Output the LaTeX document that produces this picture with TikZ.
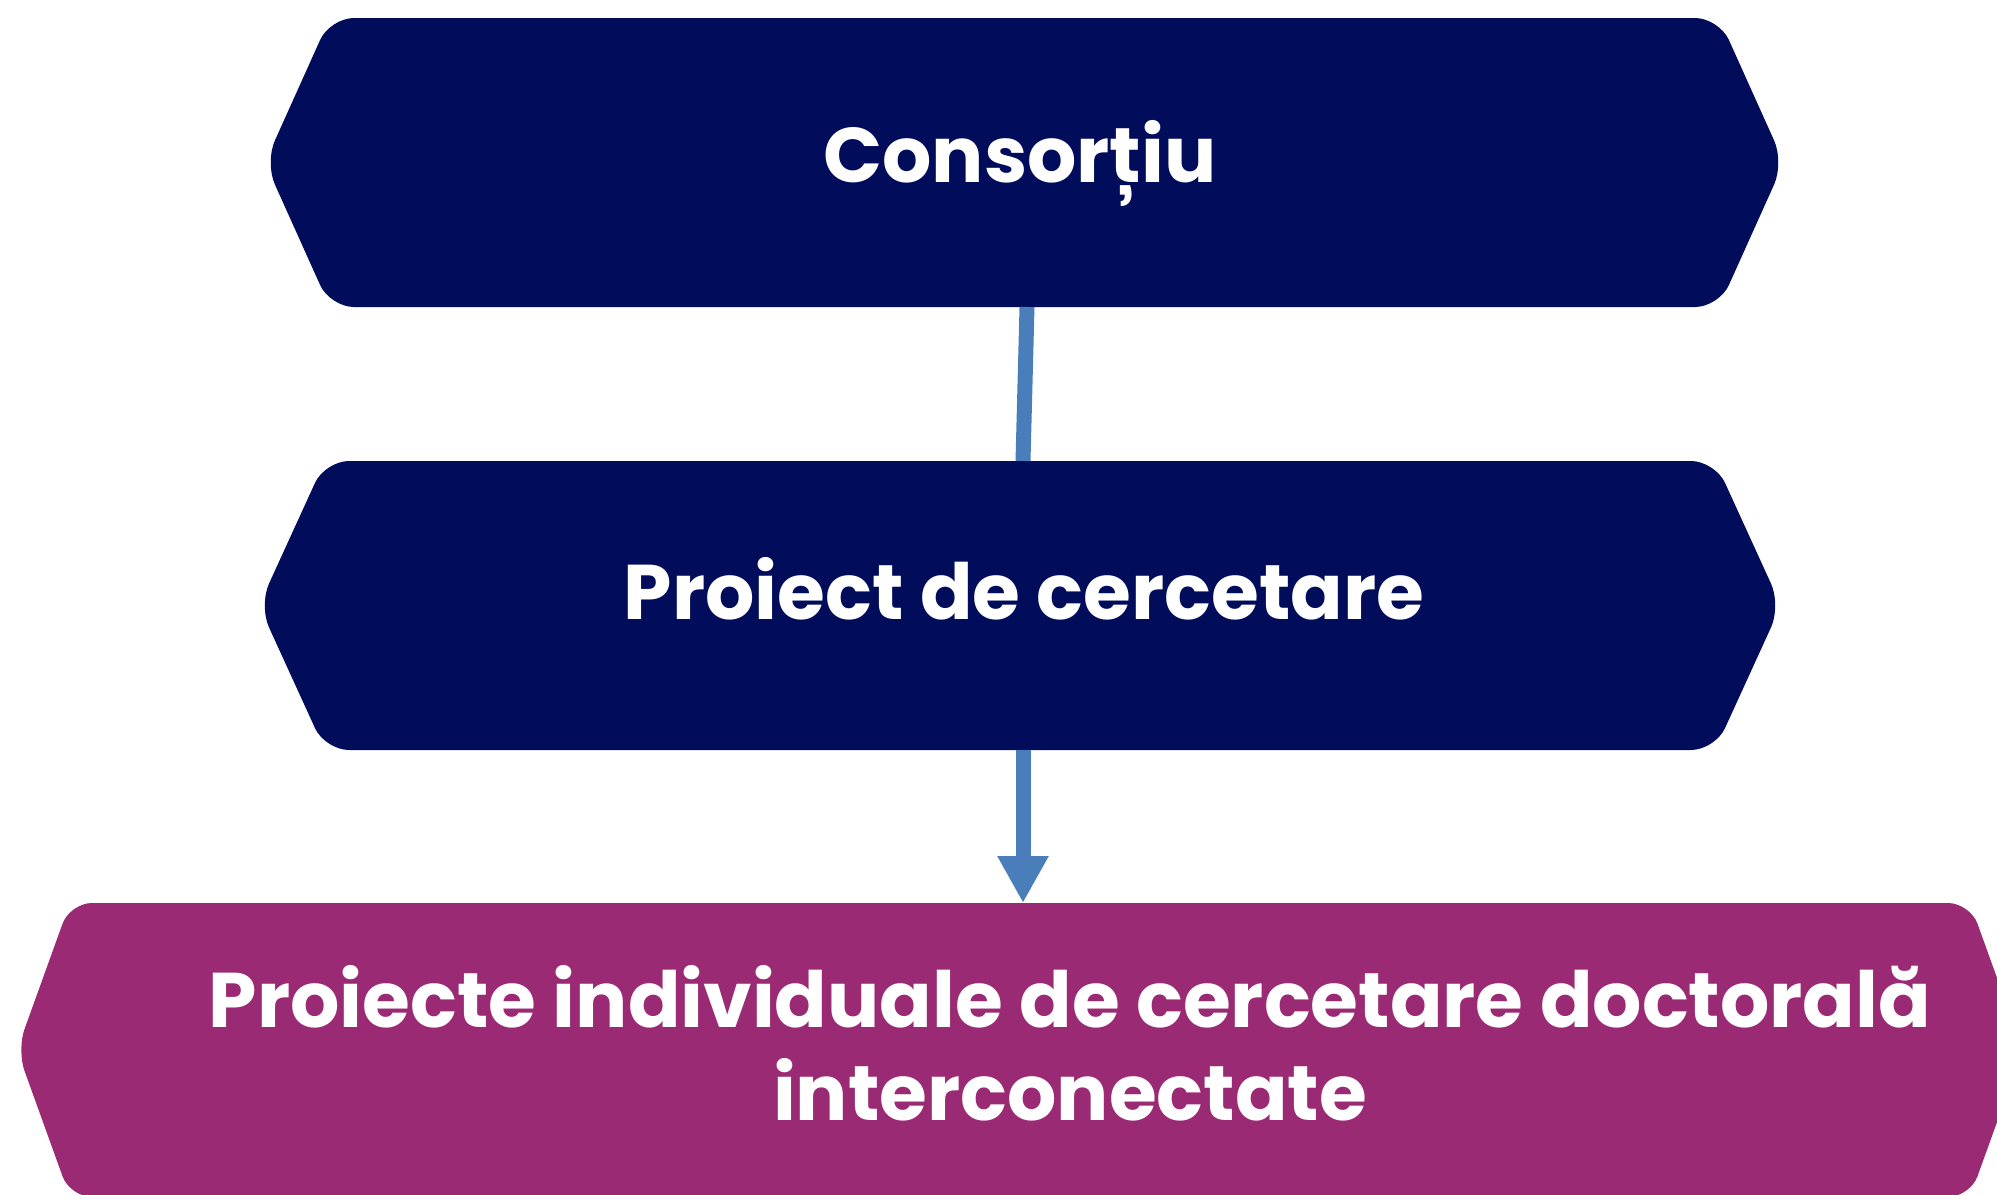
\documentclass[tikz,border=0pt]{standalone}
\usepackage{fontspec}
\setmainfont{Poppins}
\usetikzlibrary{arrows.meta}
\definecolor{navy}{RGB}{1,12,90}
\definecolor{plum}{RGB}{154,42,115}
\definecolor{linkblue}{RGB}{74,126,187}
\tikzset{
  navyhex/.style={fill=navy, rounded corners=24pt},
  plumhex/.style={fill=plum, rounded corners=22pt},
  lbl/.style={text=white, font=\fontsize{77.5}{93}\selectfont\bfseries, anchor=base, inner sep=0pt},
  conn/.style={draw=linkblue, line width=15pt},
  connarrow/.style={conn, -{Triangle[width=48pt,length=47pt]}},
}
\begin{document}
\begin{tikzpicture}[x=1pt,y=-1pt]
\useasboundingbox (0,0) rectangle (1997,1194);
\clip (0,0) rectangle (1997,1194);
% boxes
\fill[navyhex] (265,162.5) -- (330,18) -- (1719,18) -- (1784,162.5) -- (1719,307) -- (330,307) -- cycle;
\fill[navyhex] (259,605.5) -- (325,461) -- (1715,461) -- (1781,605.5) -- (1715,750) -- (325,750) -- cycle;
\fill[plumhex] (17,1050) -- (70,903) -- (1970,903) -- (2023,1050) -- (1970,1197) -- (70,1197) -- cycle;
% connection points
\coordinate (topS) at (1027,307);
\coordinate (midN) at (1023,461);
\coordinate (midS) at (1023,750);
\coordinate (botN) at (1023,903);
% labels
\node[lbl] (consortiu) at (1020,182) {Consorțiu};
\node[lbl] (proiect) at (1024,619) {Proiect de cercetare};
\node[lbl] (indiv1) at (1070,1027) {Proiecte individuale de cercetare doctorală};
\node[lbl] (indiv2) at (1070,1120) {interconectate};
% connectors
\draw[conn] (topS) -- (midN);
\draw[connarrow] (midS) -- (botN);
\end{tikzpicture}
\end{document}
